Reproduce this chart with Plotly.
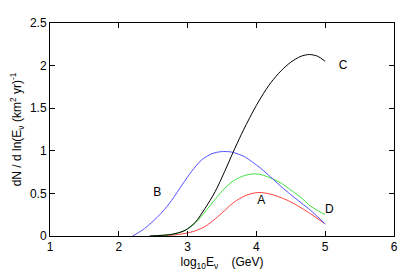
import plotly.graph_objects as go

# Curve A (red)
a_x = [2.55, 2.77, 2.96, 3.11, 3.25, 3.40, 3.54, 3.68, 3.83, 3.97, 4.07, 4.21, 4.36, 4.50, 4.65, 4.79, 5.0]
a_y = [0.0, 0.01, 0.03, 0.06, 0.11, 0.20, 0.30, 0.40, 0.47, 0.505, 0.51, 0.49, 0.45, 0.40, 0.33, 0.26, 0.14]
# Curve B (blue)
b_x = [2.20, 2.34, 2.48, 2.63, 2.77, 2.92, 3.06, 3.20, 3.35, 3.49, 3.64, 3.83, 3.93, 4.07, 4.21, 4.36, 4.50, 4.65, 4.79, 5.0]
b_y = [0.0, 0.068, 0.16, 0.28, 0.42, 0.60, 0.76, 0.89, 0.965, 0.99, 0.985, 0.93, 0.875, 0.79, 0.69, 0.58, 0.485, 0.39, 0.30, 0.14]
# Curve C (black)
c_x = [2.45, 2.77, 2.96, 3.11, 3.25, 3.40, 3.54, 3.66, 3.78, 3.93, 4.07, 4.21, 4.36, 4.50, 4.65, 4.77, 4.89, 5.0]
c_y = [0.0, 0.02, 0.065, 0.16, 0.32, 0.52, 0.76, 0.98, 1.19, 1.43, 1.63, 1.80, 1.94, 2.04, 2.11, 2.13, 2.11, 2.05]
# Curve D (green)
d_x = [2.45, 2.77, 2.96, 3.11, 3.25, 3.40, 3.54, 3.68, 3.83, 3.97, 4.07, 4.21, 4.36, 4.50, 4.65, 4.79, 5.0]
d_y = [0.0, 0.018, 0.063, 0.15, 0.28, 0.43, 0.56, 0.655, 0.71, 0.73, 0.72, 0.68, 0.62, 0.54, 0.45, 0.35, 0.25]

x_ticks = [1, 2, 3, 4, 5, 6]
y_ticks = [0, 0.5, 1, 1.5, 2, 2.5]
y_ticktext = ["0", "0.5", "1", "1.5", "2", "2.5"]

labels = ["A", "B", "C", "D"]
label_x = [4.07, 2.56, 5.26, 5.06]
label_y = [0.41, 0.50, 2.00, 0.30]

fig = go.Figure()
for xs, ys, col in [(a_x, a_y, "#ff4040"), (d_x, d_y, "#40e040"),
                    (b_x, b_y, "#5050ff"), (c_x, c_y, "#000000")]:
    fig.add_trace(go.Scatter(x=xs, y=ys, mode="lines",
                             line=dict(color=col, width=1, shape="spline", smoothing=0.8),
                             showlegend=False, hoverinfo="skip"))

fig.add_trace(go.Scatter(x=label_x, y=label_y, mode="text", text=labels,
                         textfont=dict(family="Liberation Sans", size=12, color="black"),
                         showlegend=False, hoverinfo="skip"))

axis_common = dict(showline=True, linecolor="black", linewidth=1, mirror="ticks",
                   ticks="inside", ticklen=5, tickcolor="black", showgrid=False,
                   zeroline=False, tickfont=dict(family="Liberation Sans", size=12, color="black"))

fig.update_xaxes(range=[1, 6], tickvals=x_ticks, **axis_common,
                 title=dict(text="log<sub>10</sub>E<sub>ν</sub>    (GeV)",
                            font=dict(family="Liberation Sans", size=12, color="black"),
                            standoff=4))
fig.update_yaxes(range=[0, 2.5], tickvals=y_ticks, ticktext=y_ticktext, **axis_common,
                 title=dict(text="dN / d ln(E<sub>ν</sub> (km<sup>2</sup> yr)<sup>-1</sup>",
                            font=dict(family="Liberation Sans", size=12, color="black"),
                            standoff=6))

# page body has an 8px default margin; size the figure so the plot area lands where the reference has it
fig.update_layout(width=406, height=268, margin=dict(l=39, r=20, t=8, b=40),
                  plot_bgcolor="white", paper_bgcolor="white")

fig.write_html("out.html")
